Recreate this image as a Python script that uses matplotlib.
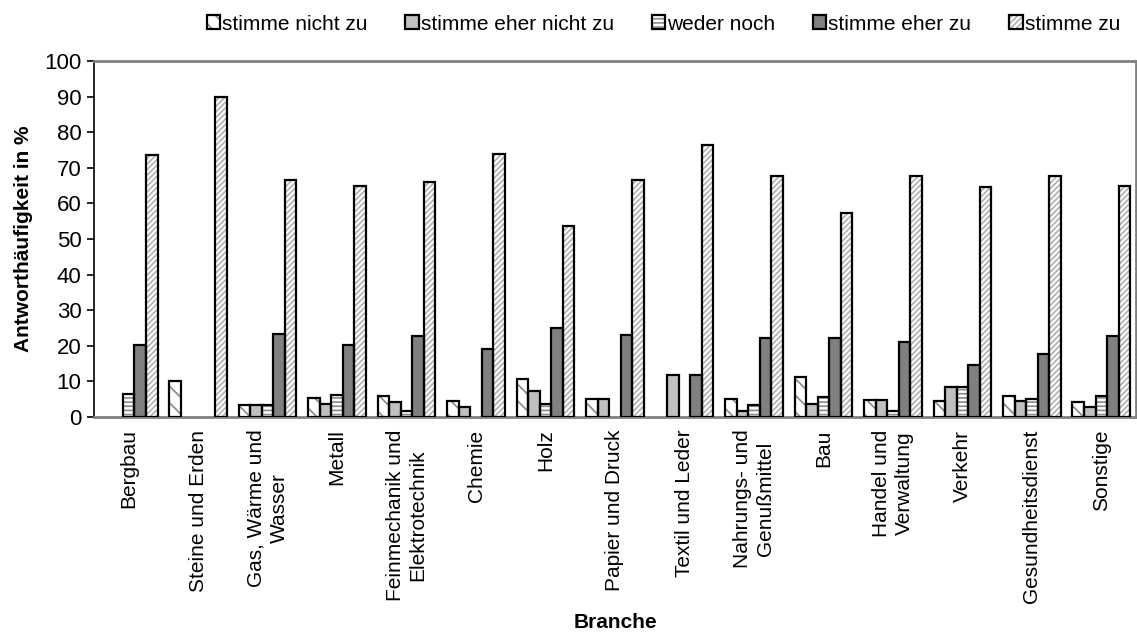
import numpy as np
import matplotlib
matplotlib.use("Agg")
import matplotlib.pyplot as plt
from matplotlib.patches import Patch
from matplotlib.legend_handler import HandlerTuple

plt.rcParams['font.family'] = ['Liberation Sans', 'DejaVu Sans']
plt.rcParams['hatch.linewidth'] = 1.2

branchen = ["Bergbau", "Steine und Erden", "Gas, Wärme und\nWasser", "Metall",
            "Feinmechanik und\nElektrotechnik", "Chemie", "Holz", "Papier und Druck",
            "Textil und Leder", "Nahrungs- und\nGenußmittel", "Bau", "Handel und\nVerwaltung",
            "Verkehr", "Gesundheitsdienst", "Sonstige"]

stimme_nicht_zu      = [0, 10, 3.3, 5.4, 5.8, 4.4, 10.8, 5.1, 0, 5.1, 11.1, 4.7, 4.4, 5.8, 4.2]
stimme_eher_nicht_zu = [0, 0, 3.3, 3.7, 4.2, 2.8, 7.3, 5.1, 11.9, 1.7, 3.7, 4.7, 8.4, 4.4, 2.8]
weder_noch           = [6.5, 0, 3.3, 6.1, 1.8, 0, 3.6, 0, 0, 3.4, 5.6, 1.8, 8.4, 5.1, 5.8]
stimme_eher_zu       = [20.1, 0, 23.4, 20.1, 22.8, 19, 25, 23, 11.9, 22.1, 22.2, 21, 14.7, 17.6, 22.7]
stimme_zu            = [73.5, 90, 66.7, 65, 66, 74, 53.6, 66.7, 76.4, 67.8, 57.4, 67.7, 64.5, 67.6, 65]

serien = ["stimme nicht zu", "stimme eher nicht zu", "weder noch", "stimme eher zu", "stimme zu"]
werte = [stimme_nicht_zu, stimme_eher_nicht_zu, weder_noch, stimme_eher_zu, stimme_zu]

# face colour, hatch, hatch colour
stile = [("white", "\\\\", "#8a8a8a"),
         ("#c0c0c0", None, None),
         ("white", "----", "#8a8a8a"),
         ("#808080", None, None),
         ("white", "//////", "#b0b0b0")]

fig = plt.figure(figsize=(11.37, 6.33), dpi=100)
ax = fig.add_axes([94/1137, 1-417/633, (1136-94)/1137, (417-61)/633])

x = np.arange(len(branchen))
w = 0.166
handles = []
for i, (name, vals) in enumerate(zip(serien, werte)):
    fc, hatch, hc = stile[i]
    pos = x + (i - 2) * w
    vals = np.array(vals)
    mask = vals > 0
    ax.bar(pos[mask], vals[mask], w, color=fc, edgecolor=hc if hc else fc,
           hatch=hatch, linewidth=0, zorder=2)
    ax.bar(pos[mask], vals[mask], w, color="none", edgecolor="black",
           linewidth=1.6, zorder=3)
    handles.append((Patch(facecolor=fc, edgecolor=hc if hc else fc, hatch=hatch, lw=0),
                    Patch(facecolor="none", edgecolor="black", lw=1.6)))

ax.set_xlim(-0.5, len(branchen) - 0.5)
ax.set_ylim(0, 100)
ax.set_yticks(np.arange(0, 101, 10))
ax.set_xticks(x)
ax.set_xticklabels(branchen, rotation=90, ha="center", va="top", multialignment="center",
                   linespacing=1.25)
ax.tick_params(axis="x", length=0, pad=9, labelsize=15)
ax.tick_params(axis="y", length=5, width=1.2, labelsize=16, pad=4)

for s in ["top", "right", "bottom"]:
    ax.spines[s].set_color("#808080")
    ax.spines[s].set_linewidth(2)
ax.spines["left"].set_color("black")
ax.spines["left"].set_linewidth(1.2)

ax.set_ylabel("Antworthäufigkeit in %", fontsize=15, fontweight="bold", labelpad=8)
fig.text(615/1137, 1-622/633, "Branche", fontsize=15, fontweight="bold",
         ha="center", va="center")

fig.legend(handles, serien, handler_map={tuple: HandlerTuple(ndivide=1, pad=0)},
           loc="center right", bbox_to_anchor=(1120/1137, 1-24/633), ncol=5, frameon=False,
           fontsize=15, handlelength=0.65, handleheight=0.65, handletextpad=0.1,
           columnspacing=1.8, borderpad=0, borderaxespad=0)

fig.savefig("out.png", dpi=100)
